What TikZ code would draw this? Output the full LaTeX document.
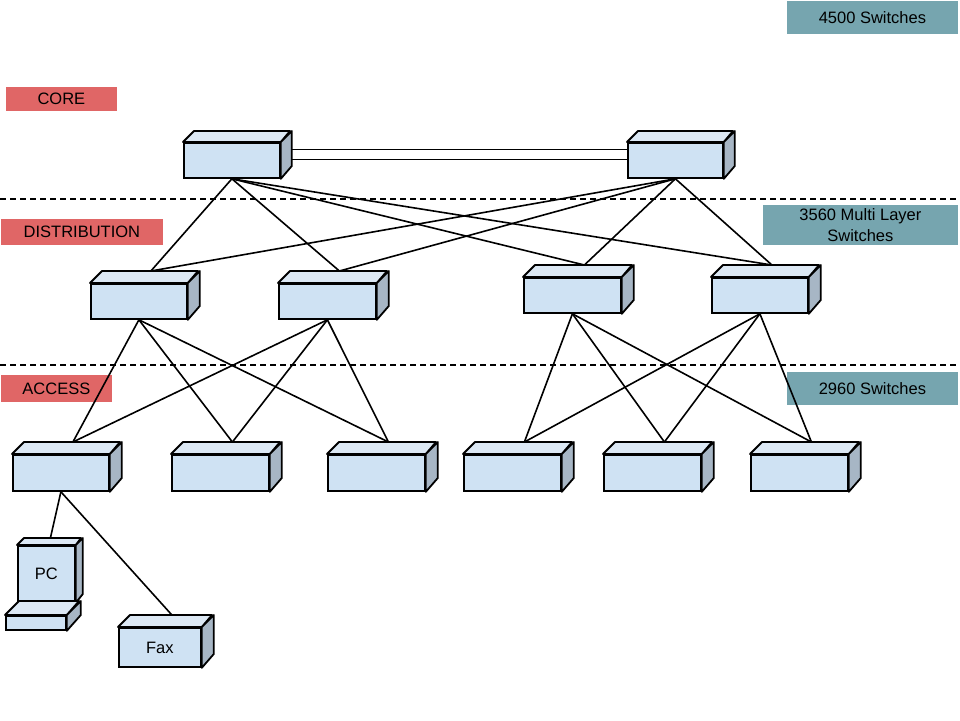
\documentclass[tikz,border=0pt]{standalone}
\usepackage{fontspec}
\setmainfont{Liberation Sans}
\usetikzlibrary{calc}
\begin{document}
\begin{tikzpicture}[x=1pt,y=-1pt,line width=1.8pt,
  front/.style={draw=black,fill=swf,inner sep=0,anchor=north west,font=\fontsize{16.5}{19}\selectfont},
  lbl/.style={inner sep=0,anchor=north west,font=\fontsize{16.5}{19}\selectfont,align=center},
  link/.style={line width=1.6pt}]
\definecolor{swf}{HTML}{CFE2F3}
\definecolor{swt}{HTML}{DCE8F4}
\definecolor{sws}{HTML}{A7B6C5}
\definecolor{redl}{HTML}{E06666}
\definecolor{teal}{HTML}{76A5AF}
\useasboundingbox (0,0) rectangle (960,720);
\newcommand{\mysw}[7]{%
  \node[front,minimum width=#4,minimum height=#5] (#1) at (#2,#3) {#7};
  \draw[fill=swt,line join=round] (#1.north west) -- ++(#6,-#6) -- ++(#4,0) -- (#1.north east) -- cycle;
  \draw[fill=sws,line join=round] (#1.north east) -- ++(#6,-#6) -- ++(0,#5) -- (#1.south east) -- cycle;
  \coordinate (#1T) at ($(#1.north)+(#6,-#6)$);
}
% labels
\node[lbl,fill=redl,minimum width=111,minimum height=24] (core) at (5,86) {CORE};
\node[lbl,fill=redl,minimum width=162,minimum height=26] (dist) at (0,218) {DISTRIBUTION};
\node[lbl,fill=redl,minimum width=111,minimum height=27] (acc) at (0,374) {ACCESS};
\node[lbl,fill=teal,minimum width=171,minimum height=33] (t1) at (786,0) {4500 Switches};
\node[lbl,fill=teal,minimum width=195,minimum height=40,font=\fontsize{16.5}{21}\selectfont] (t2) at (762,204) {3560 Multi Layer\\Switches};
\node[lbl,fill=teal,minimum width=171,minimum height=33] (t3) at (786,371) {2960 Switches};
\coordinate (d1a) at (0,199); \coordinate (d1b) at (960,199);
\coordinate (d2a) at (0,365); \coordinate (d2b) at (960,365);
\draw[dash pattern=on 6pt off 4pt] (d1a) -- (d1b);
\draw[dash pattern=on 6pt off 4pt] (d2a) -- (d2b);
% core
\mysw{cl}{183}{142}{96}{35}{11}{}
\mysw{cr}{627}{142}{95}{35}{11}{}
\draw[link] ([yshift=11]cl.east)++(11,0) coordinate (ca1) -- ([yshift=11]cr.west) coordinate (cb1);
\draw[link] ([yshift=1]cl.east)++(11,0) coordinate (ca2) -- ([yshift=1]cr.west) coordinate (cb2);
% distribution
\mysw{d1}{90}{283}{96}{35}{12}{}
\mysw{d2}{278}{283}{97}{35}{12}{}
\mysw{d3}{523}{277}{97}{35}{12}{}
\mysw{d4}{711}{277}{96}{35}{12}{}
% access
\mysw{a1}{12}{454}{96}{36}{12}{}
\mysw{a2}{171}{454}{97}{36}{12}{}
\mysw{a3}{327}{454}{97}{36}{12}{}
\mysw{a4}{463}{454}{97}{36}{12}{}
\mysw{a5}{603}{454}{97}{36}{12}{}
\mysw{a6}{750}{454}{97}{36}{12}{}
% links
\foreach \c in {cl,cr}{\foreach \d in {d1,d2,d3,d4}{\draw[link] (\c.south) -- (\d T);}}
\foreach \c in {d1,d2}{\foreach \d in {a1,a2,a3}{\draw[link] (\c.south) -- (\d T);}}
\foreach \c in {d3,d4}{\foreach \d in {a4,a5,a6}{\draw[link] (\c.south) -- (\d T);}}
% PC
\node[front,minimum width=57,minimum height=56] (pc) at (17,545) {PC};
\draw[fill=swt,line join=round] (pc.north west) -- ++(7,-7) -- ++(57,0) -- (pc.north east) -- cycle;
\draw[fill=sws,line join=round] (pc.north east) -- ++(7,-7) -- ++(0,56) -- (pc.south east) -- cycle;
\coordinate (pcT) at ($(pc.north)+(4,-7)$);
\node[front,minimum width=60,minimum height=14] (pcb) at (5,615) {};
\draw[fill=swt,line join=round] (pcb.north west) -- ++(14,-14) -- ++(60,0) -- (pcb.north east) -- cycle;
\draw[fill=sws,line join=round] (pcb.north east) -- ++(14,-14) -- ++(0,14) -- (pcb.south east) -- cycle;
\mysw{fax}{118}{627}{82}{39}{12}{Fax}
\draw[link] (a1.south) -- (pcT);
\draw[link] (a1.south) -- (faxT);
\end{tikzpicture}
\end{document}
